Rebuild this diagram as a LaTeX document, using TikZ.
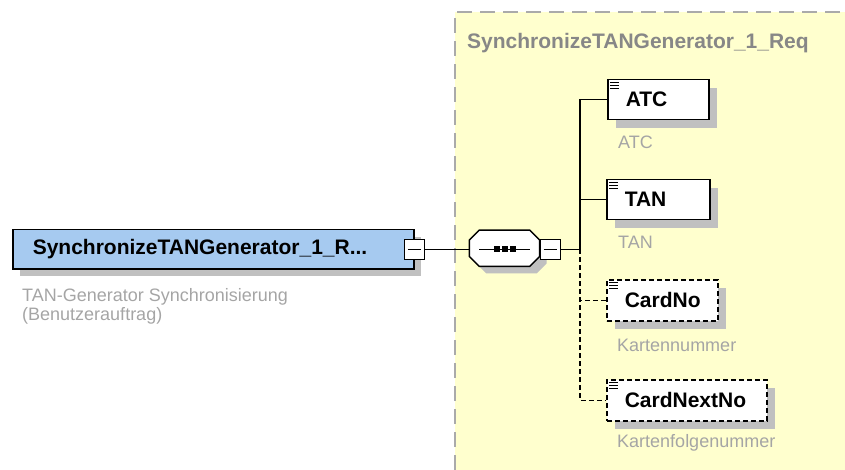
\documentclass[tikz,border=0pt]{standalone}
\usepackage{fontspec}
\setmainfont{Liberation Sans}
\usetikzlibrary{shadows}

\definecolor{rootblue}{RGB}{166,202,240}
\definecolor{panelyellow}{RGB}{255,255,206}
\definecolor{shadowgray}{RGB}{192,192,192}
\definecolor{descgray}{RGB}{165,165,165}
\definecolor{titlegray}{RGB}{135,135,135}
\definecolor{bordergray}{RGB}{170,170,170}

\tikzset{
  boxshadow/.style={drop shadow={shadow xshift=#1, shadow yshift=-#1,
      fill=shadowgray, opacity=1}},
  rootbox/.style={draw, fill=rootblue, line width=1.5pt,
    anchor=north west, inner xsep=20pt, inner ysep=0pt,
    minimum height=39pt, align=left,
    font=\bfseries\fontsize{21}{24}\selectfont, boxshadow=7pt},
  elembox/.style={draw, fill=white, line width=1.5pt,
    anchor=north west, inner xsep=18pt, inner ysep=0pt,
    minimum height=40pt, align=left,
    font=\bfseries\fontsize{21}{24}\selectfont, boxshadow=8pt},
  optbox/.style={elembox, dash pattern=on 5pt off 3pt},
  seqbox/.style={minimum width=70pt, minimum height=36pt, inner sep=0pt},
  minusbox/.style={draw, fill=white, line width=1.2pt,
    minimum size=20pt, inner sep=0pt},
  desc/.style={anchor=west, inner sep=0pt, text=descgray,
    font=\fontsize{18}{19}\selectfont},
  conn/.style={line width=1.3pt},
  optconn/.style={conn, dash pattern=on 5pt off 3pt}
}

\begin{document}
\begin{tikzpicture}[x=1pt,y=-1pt]

\useasboundingbox
(0,0)
rectangle
(845,470);

% Rahmen
\fill[panelyellow]
(455,12)
rectangle
(845,470);

\draw[bordergray,line width=1.5pt,dash pattern=on 15pt off 8pt]
(455,470)
--
(455,12)
--
(845,12);

\node[anchor=west,inner sep=0pt,text=titlegray,
  font=\bfseries\fontsize{21}{24}\selectfont] (paneltitle)
at (467,43)
{SynchronizeTANGenerator\_1\_Req};

% Wurzel
\node[rootbox,text width=361pt] (root)
at (12,229)
{SynchronizeTANGenerator\_1\_R...};

\node[minusbox] (rootminus)
at (root.east)
{};

\draw[line width=1pt,shorten <=4pt,shorten >=4pt]
(rootminus.west)
--
(rootminus.east);

\node[desc,anchor=north west,align=left] (rootdesc)
at (22,288)
{TAN-Generator Synchronisierung\\(Benutzerauftrag)};

% Sequenz
\node[seqbox] (seq)
at ([xshift=90pt,yshift=1pt]root.east)
{};

\draw[fill=white,line width=1.5pt,boxshadow=7pt]
([xshift=10pt]seq.north west)
-- ([xshift=-10pt]seq.north east)
-- ([yshift=-10pt]seq.north east)
-- ([yshift=10pt]seq.south east)
-- ([xshift=-10pt]seq.south east)
-- ([xshift=10pt]seq.south west)
-- ([yshift=10pt]seq.south west)
-- ([yshift=-10pt]seq.north west)
-- cycle;

\draw[line width=1.2pt]
([xshift=10pt,yshift=-1pt]seq.west)
--
([xshift=-10pt,yshift=-1pt]seq.east);

\foreach \dx in {-8,0,8}
  \fill ([xshift=\dx pt-3pt,yshift=-4pt]seq.center)
  rectangle ++(6pt,6pt);

\node[minusbox,anchor=west] (seqminus)
at ([yshift=-1pt]seq.east)
{};

\draw[line width=1pt,shorten <=4pt,shorten >=4pt]
(seqminus.west)
--
(seqminus.east);

\draw[conn]
(rootminus.east)
--
(rootminus.east -| seq.west);

\coordinate (fork) at ([xshift=19pt]seqminus.east);

\draw[conn]
(seqminus.east)
--
(fork);

% Elemente
\node[elembox,text width=65pt] (atc)
at (607,79)
{ATC};

\node[elembox,text width=67pt] (tan)
at (606,179)
{TAN};

\node[optbox,text width=75pt,minimum height=41pt] (cardno)
at (606,279)
{CardNo};

\node[optbox,text width=124pt,minimum height=41pt] (cardnext)
at (606,379)
{CardNextNo};

\foreach \b in {atc,tan,cardno,cardnext}
  \foreach \dy in {3.5,6.5,9.5}
    \draw[line width=0.9pt]
    ([xshift=3pt,yshift=-\dy pt]\b.north west)
    -- ++(9pt,0pt);

\draw[conn] (fork) |- (atc.west);
\draw[conn] (fork) |- (tan.west);
\draw[optconn] (fork) |- (cardno.west);
\draw[optconn] (fork) |- (cardnext.west);

% Beschreibungen
\node[desc] (atcdesc)
at (618,142)
{ATC};

\node[desc] (tandesc)
at (618,242)
{TAN};

\node[desc] (cardnodesc)
at (617,345)
{Kartennummer};

\node[desc] (cardnextdesc)
at (617,443)
{Kartenfolgenummer};

\end{tikzpicture}
\end{document}
